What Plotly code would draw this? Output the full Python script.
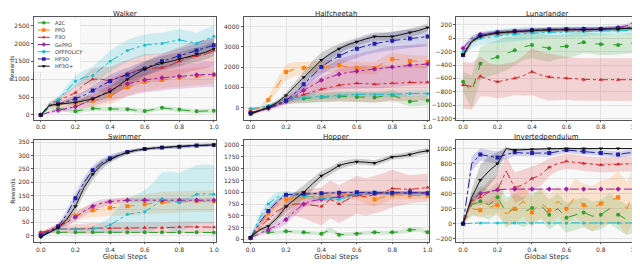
import plotly.graph_objects as go

steps = [0, .05, .1, .15, .2, .25, .3, .35, .4, .45, .5, .55, .6, .65, .7, .75, .8, .85, .9, .95, 1.0]
x_ticks = [0.0, 0.2, 0.4, 0.6, 0.8, 1.0]
methods = ["A2C", "PPO", "P3O", "GePPO", "OFFPOLICY", "HP3O", "HP3O+"]
envs = ["Walker", "Halfcheetah", "Lunarlander", "Swimmer", "Hopper", "Invertedpendulum"]

# ---------------- Walker ----------------
walker_a2c = [0, 200, 180, 150, 100, 150, 180, 170, 170, 150, 160, 130, 110, 150, 200, 170, 150, 120, 100, 110, 120]
walker_a2c_sd = [0, 60, 60, 60, 60, 60, 60, 60, 60, 60, 60, 60, 60, 60, 60, 60, 60, 60, 60, 60, 60]
walker_ppo = [0, 250, 300, 320, 340, 370, 400, 450, 520, 650, 780, 860, 920, 950, 980, 1020, 1050, 1060, 1080, 1100, 1120]
walker_ppo_sd = [0, 50, 80, 100, 120, 150, 180, 200, 220, 250, 250, 250, 250, 250, 250, 250, 250, 250, 250, 250, 250]
walker_p3o = [0, 300, 400, 500, 620, 850, 1000, 1000, 950, 1050, 1150, 1230, 1300, 1320, 1320, 1400, 1500, 1600, 1650, 1700, 1800]
walker_p3o_sd = [0, 60, 100, 150, 200, 250, 300, 350, 400, 400, 400, 400, 400, 400, 400, 400, 400, 400, 400, 400, 400]
walker_geppo = [0, 80, 130, 180, 230, 330, 450, 580, 700, 800, 870, 930, 980, 1010, 1040, 1060, 1080, 1100, 1120, 1130, 1130]
walker_geppo_sd = [0, 40, 60, 80, 100, 150, 200, 250, 300, 330, 350, 350, 350, 350, 350, 350, 350, 350, 350, 350, 350]
walker_offp = [0, 300, 430, 700, 940, 1050, 1100, 1300, 1500, 1650, 1800, 1880, 1950, 1980, 2000, 2050, 2100, 2050, 2000, 2100, 2200]
walker_offp_sd = [0, 50, 80, 120, 150, 200, 250, 280, 300, 300, 300, 300, 300, 300, 300, 300, 300, 300, 300, 300, 300]
walker_hp3o = [0, 250, 300, 370, 450, 550, 680, 820, 950, 1050, 1120, 1220, 1300, 1400, 1500, 1580, 1650, 1720, 1800, 1880, 1950]
walker_hp3o_sd = [0, 30, 50, 70, 90, 110, 130, 150, 170, 180, 190, 200, 200, 200, 200, 200, 200, 200, 200, 200, 200]
walker_hp3op = [0, 270, 300, 320, 350, 400, 450, 550, 650, 820, 1000, 1150, 1280, 1380, 1450, 1500, 1560, 1630, 1700, 1750, 1850]
walker_hp3op_sd = [0, 30, 40, 50, 60, 80, 100, 130, 160, 180, 200, 200, 200, 200, 200, 200, 200, 200, 200, 200, 200]

# ---------------- Halfcheetah ----------------
cheetah_a2c = [-300, -150, 0, 200, 350, 420, 450, 500, 520, 540, 560, 540, 520, 500, 500, 560, 620, 450, 300, 330, 350]
cheetah_a2c_sd = [50, 60, 80, 100, 150, 200, 250, 250, 250, 250, 250, 250, 250, 250, 250, 250, 250, 250, 250, 250, 250]
cheetah_ppo = [-100, -50, 380, 1100, 1750, 1900, 1950, 1980, 2000, 2050, 2100, 2000, 1950, 1950, 1950, 2200, 2400, 2350, 2300, 2270, 2250]
cheetah_ppo_sd = [50, 80, 150, 300, 400, 350, 300, 300, 300, 300, 300, 300, 300, 300, 300, 300, 300, 300, 300, 300, 300]
cheetah_p3o = [-350, -150, 50, 200, 350, 500, 650, 780, 900, 1000, 1100, 1150, 1200, 1180, 1150, 1180, 1200, 1220, 1250, 1250, 1250]
cheetah_p3o_sd = [50, 80, 100, 150, 200, 300, 400, 500, 600, 700, 800, 850, 900, 900, 900, 900, 900, 900, 900, 900, 900]
cheetah_geppo = [-250, -150, -50, 100, 300, 550, 850, 1100, 1350, 1500, 1650, 1730, 1800, 1850, 1900, 1950, 2000, 2050, 2100, 2120, 2150]
cheetah_geppo_sd = [50, 50, 80, 100, 150, 250, 350, 450, 550, 650, 750, 800, 850, 900, 950, 1000, 1000, 1000, 1000, 1000, 1000]
cheetah_offp = [-50, 0, 100, 250, 350, 450, 500, 530, 550, 580, 600, 620, 650, 660, 650, 660, 650, 680, 700, 700, 700]
cheetah_offp_sd = [50, 50, 80, 100, 120, 150, 150, 150, 150, 150, 150, 150, 150, 150, 150, 150, 150, 150, 150, 150, 150]
cheetah_hp3o = [-250, -150, 0, 150, 350, 700, 1150, 1600, 2000, 2300, 2550, 2750, 2900, 3050, 3150, 3230, 3300, 3350, 3400, 3450, 3500]
cheetah_hp3o_sd = [50, 50, 80, 100, 150, 200, 250, 300, 350, 400, 450, 450, 450, 450, 450, 450, 450, 450, 450, 450, 450]
cheetah_hp3op = [-300, -150, 0, 250, 600, 1050, 1500, 1950, 2350, 2650, 2900, 3100, 3250, 3380, 3500, 3500, 3500, 3600, 3700, 3800, 3950]
cheetah_hp3op_sd = [50, 50, 80, 100, 150, 200, 300, 350, 350, 300, 250, 200, 200, 200, 200, 200, 200, 200, 200, 200, 200]

# ---------------- Lunarlander ----------------
lunar_a2c = [-650, -800, -380, -320, -280, -230, -180, -130, -100, -130, -150, -130, -120, -90, -60, -80, -90, -100, -100, -80, -70]
lunar_a2c_sd = [150, 250, 250, 250, 250, 250, 220, 200, 200, 200, 200, 180, 180, 180, 160, 160, 160, 150, 150, 150, 150]
lunar_ppo = [-250, -50, 30, 60, 80, 90, 100, 110, 120, 120, 125, 125, 130, 130, 135, 135, 140, 140, 140, 145, 150]
lunar_ppo_sd = [50, 40, 30, 30, 30, 30, 30, 30, 30, 30, 30, 30, 30, 30, 30, 30, 30, 30, 30, 30, 30]
lunar_p3o = [-700, -720, -570, -620, -650, -630, -600, -560, -500, -550, -580, -590, -600, -610, -620, -620, -620, -620, -620, -620, -620]
lunar_p3o_sd = [350, 350, 300, 250, 250, 250, 250, 300, 350, 350, 350, 330, 320, 320, 320, 320, 320, 320, 320, 320, 320]
lunar_geppo = [-150, 0, 60, 80, 90, 100, 110, 120, 125, 130, 130, 130, 135, 135, 140, 140, 140, 150, 160, 190, 250]
lunar_geppo_sd = [40, 30, 30, 30, 30, 30, 30, 30, 30, 30, 30, 30, 30, 30, 30, 30, 30, 30, 30, 30, 30]
lunar_offp = [-200, -50, 0, 20, 40, 50, 60, 70, 80, 80, 90, 90, 100, 100, 100, 110, 110, 110, 110, 115, 120]
lunar_offp_sd = [80, 100, 100, 100, 100, 100, 100, 100, 100, 80, 80, 80, 80, 80, 80, 70, 70, 70, 60, 60, 60]
lunar_hp3o = [-250, -40, 40, 70, 85, 95, 105, 115, 120, 125, 130, 130, 135, 135, 140, 140, 140, 145, 150, 155, 160]
lunar_hp3o_sd = [50, 30, 30, 30, 30, 30, 30, 30, 30, 30, 30, 30, 30, 30, 30, 30, 30, 30, 30, 30, 30]
lunar_hp3op = [-250, -50, 30, 60, 80, 90, 100, 110, 120, 120, 125, 125, 130, 130, 120, 130, 135, 140, 140, 145, 150]
lunar_hp3op_sd = [50, 30, 30, 30, 30, 30, 30, 30, 30, 30, 30, 30, 30, 30, 30, 30, 30, 30, 30, 30, 30]

# ---------------- Swimmer ----------------
swim_a2c = [12, 13, 13, 13, 13, 13, 13, 13, 13, 13, 13, 13, 13, 13, 13, 13, 13, 13, 13, 12, 12]
swim_a2c_sd = [3, 3, 3, 3, 3, 3, 3, 3, 3, 3, 3, 3, 3, 3, 3, 3, 3, 3, 3, 3, 3]
swim_ppo = [10, 20, 35, 55, 75, 85, 95, 100, 105, 108, 110, 113, 118, 122, 125, 126, 127, 128, 130, 130, 130]
swim_ppo_sd = [3, 8, 10, 15, 20, 22, 25, 28, 30, 32, 35, 37, 38, 40, 40, 40, 40, 40, 40, 40, 40]
swim_p3o = [12, 20, 25, 25, 25, 26, 28, 28, 28, 28, 28, 29, 30, 30, 30, 31, 33, 33, 33, 32, 32]
swim_p3o_sd = [5, 10, 15, 15, 18, 20, 20, 20, 20, 20, 20, 20, 20, 20, 20, 20, 20, 20, 20, 20, 20]
swim_geppo = [5, 20, 35, 50, 70, 92, 110, 122, 128, 131, 133, 133, 133, 133, 133, 133, 133, 133, 133, 133, 133]
swim_geppo_sd = [3, 8, 10, 15, 15, 15, 15, 15, 12, 10, 8, 8, 8, 8, 8, 8, 8, 8, 8, 8, 8]
swim_offp = [-5, 15, 25, 25, 25, 25, 25, 30, 40, 60, 80, 85, 90, 110, 138, 130, 125, 140, 155, 157, 155]
swim_offp_sd = [3, 5, 5, 5, 5, 8, 10, 20, 30, 50, 60, 70, 80, 90, 100, 110, 110, 110, 110, 110, 110]
swim_hp3o = [0, 15, 35, 80, 140, 200, 245, 272, 290, 303, 313, 320, 325, 328, 330, 332, 333, 335, 338, 339, 340]
swim_hp3o_sd = [2, 5, 8, 15, 20, 20, 18, 15, 12, 10, 8, 7, 6, 6, 6, 6, 6, 6, 6, 6, 6]
swim_hp3op = [-5, 12, 30, 60, 110, 180, 230, 265, 285, 300, 312, 320, 325, 328, 330, 333, 335, 337, 338, 339, 340]
swim_hp3op_sd = [2, 5, 8, 15, 20, 25, 22, 18, 12, 10, 8, 7, 6, 6, 6, 6, 6, 6, 6, 6, 6]

# ---------------- Hopper ----------------
hop_a2c = [30, 200, 150, 150, 170, 160, 150, 140, 120, 200, 100, 110, 120, 130, 150, 140, 150, 160, 200, 210, 150]
hop_a2c_sd = [10, 40, 40, 40, 40, 40, 40, 40, 40, 60, 40, 40, 40, 40, 40, 40, 40, 40, 50, 50, 40]
hop_ppo = [30, 300, 550, 750, 850, 880, 900, 910, 920, 940, 950, 945, 940, 900, 850, 900, 950, 940, 930, 930, 930]
hop_ppo_sd = [10, 50, 80, 100, 80, 70, 60, 60, 60, 60, 60, 80, 100, 150, 150, 120, 100, 80, 80, 80, 80]
hop_p3o = [30, 250, 430, 600, 700, 750, 750, 720, 700, 850, 750, 850, 950, 900, 950, 1000, 1080, 1070, 1060, 1080, 1100]
hop_p3o_sd = [10, 80, 120, 150, 200, 250, 300, 350, 400, 400, 400, 400, 400, 400, 400, 400, 400, 350, 300, 300, 300]
hop_geppo = [30, 120, 200, 300, 420, 600, 750, 820, 850, 880, 900, 930, 950, 970, 980, 975, 970, 975, 980, 985, 990]
hop_geppo_sd = [10, 40, 60, 80, 100, 100, 80, 60, 50, 40, 40, 40, 40, 40, 40, 40, 40, 40, 40, 40, 40]
hop_offp = [50, 450, 750, 900, 950, 940, 920, 900, 880, 870, 850, 900, 960, 980, 1000, 980, 970, 975, 980, 970, 960]
hop_offp_sd = [10, 80, 100, 100, 80, 60, 60, 60, 60, 60, 60, 60, 60, 50, 50, 50, 50, 50, 50, 50, 50]
hop_hp3o = [30, 350, 600, 800, 950, 960, 970, 975, 980, 985, 990, 995, 1000, 995, 990, 990, 990, 995, 1000, 990, 980]
hop_hp3o_sd = [10, 60, 80, 60, 30, 30, 30, 30, 30, 30, 30, 30, 30, 30, 30, 30, 30, 30, 30, 30, 30]
hop_hp3op = [50, 200, 280, 450, 700, 850, 1000, 1180, 1350, 1450, 1570, 1620, 1650, 1640, 1620, 1680, 1750, 1770, 1800, 1850, 1880]
hop_hp3op_sd = [10, 30, 50, 80, 120, 150, 150, 130, 100, 80, 80, 70, 60, 60, 60, 60, 60, 60, 60, 60, 60]

# ---------------- Invertedpendulum ----------------
inv_a2c = [0, 250, 300, 250, 350, 150, 200, 150, 210, 250, 120, 200, 80, 120, 150, 100, 120, 200, 120, 50, 70]
inv_a2c_sd = [0, 150, 200, 200, 200, 200, 200, 200, 200, 200, 200, 200, 200, 200, 200, 200, 200, 200, 200, 200, 200]
inv_ppo = [0, 200, 180, 220, 250, 130, 200, 300, 150, 280, 180, 300, 200, 350, 250, 200, 270, 300, 350, 200, 450]
inv_ppo_sd = [0, 80, 100, 100, 150, 150, 200, 200, 200, 200, 200, 200, 220, 250, 280, 300, 300, 300, 350, 350, 350]
inv_p3o = [0, 300, 350, 420, 450, 700, 480, 520, 600, 650, 750, 800, 830, 820, 800, 790, 780, 785, 790, 795, 800]
inv_p3o_sd = [0, 50, 100, 150, 200, 200, 200, 200, 150, 150, 120, 100, 100, 100, 100, 100, 100, 100, 100, 100, 100]
inv_geppo = [0, 320, 400, 430, 450, 460, 460, 460, 460, 460, 460, 460, 460, 460, 460, 460, 460, 460, 460, 460, 460]
inv_geppo_sd = [0, 20, 10, 5, 5, 5, 5, 5, 5, 5, 5, 5, 5, 5, 5, 5, 5, 5, 5, 5, 5]
inv_offp = [0, 10, 10, 10, 10, 10, 10, 10, 10, 10, 10, 10, 10, 10, 10, 10, 10, 10, 10, 10, 10]
inv_offp_sd = [0, 5, 5, 5, 5, 5, 5, 5, 5, 5, 5, 5, 5, 5, 5, 5, 5, 5, 5, 5, 5]
inv_hp3o = [0, 800, 920, 900, 880, 920, 950, 940, 940, 940, 940, 960, 980, 970, 960, 950, 940, 930, 920, 940, 950]
inv_hp3o_sd = [0, 100, 80, 80, 80, 60, 50, 50, 50, 50, 50, 40, 40, 40, 40, 40, 40, 40, 40, 40, 40]
inv_hp3op = [0, 350, 580, 700, 800, 1000, 980, 990, 990, 995, 1000, 1000, 1000, 1000, 1000, 1000, 1000, 1000, 1000, 1000, 1000]
inv_hp3op_sd = [0, 100, 200, 200, 150, 20, 20, 20, 10, 10, 10, 5, 5, 5, 5, 5, 5, 5, 5, 5, 5]

env_data = [
    [(walker_a2c, walker_a2c_sd), (walker_ppo, walker_ppo_sd), (walker_p3o, walker_p3o_sd), (walker_geppo, walker_geppo_sd),
     (walker_offp, walker_offp_sd), (walker_hp3o, walker_hp3o_sd), (walker_hp3op, walker_hp3op_sd)],
    [(cheetah_a2c, cheetah_a2c_sd), (cheetah_ppo, cheetah_ppo_sd), (cheetah_p3o, cheetah_p3o_sd), (cheetah_geppo, cheetah_geppo_sd),
     (cheetah_offp, cheetah_offp_sd), (cheetah_hp3o, cheetah_hp3o_sd), (cheetah_hp3op, cheetah_hp3op_sd)],
    [(lunar_a2c, lunar_a2c_sd), (lunar_ppo, lunar_ppo_sd), (lunar_p3o, lunar_p3o_sd), (lunar_geppo, lunar_geppo_sd),
     (lunar_offp, lunar_offp_sd), (lunar_hp3o, lunar_hp3o_sd), (lunar_hp3op, lunar_hp3op_sd)],
    [(swim_a2c, swim_a2c_sd), (swim_ppo, swim_ppo_sd), (swim_p3o, swim_p3o_sd), (swim_geppo, swim_geppo_sd),
     (swim_offp, swim_offp_sd), (swim_hp3o, swim_hp3o_sd), (swim_hp3op, swim_hp3op_sd)],
    [(hop_a2c, hop_a2c_sd), (hop_ppo, hop_ppo_sd), (hop_p3o, hop_p3o_sd), (hop_geppo, hop_geppo_sd),
     (hop_offp, hop_offp_sd), (hop_hp3o, hop_hp3o_sd), (hop_hp3op, hop_hp3op_sd)],
    [(inv_a2c, inv_a2c_sd), (inv_ppo, inv_ppo_sd), (inv_p3o, inv_p3o_sd), (inv_geppo, inv_geppo_sd),
     (inv_offp, inv_offp_sd), (inv_hp3o, inv_hp3o_sd), (inv_hp3op, inv_hp3op_sd)],
]

y_ranges = [[-135, 2740], [-600, 4470], [-1220, 320], [-25, 360], [-65, 2120], [-250, 1120]]
y_ticks = [
    [0, 500, 1000, 1500, 2000, 2500],
    [0, 1000, 2000, 3000, 4000],
    [200, 0, -200, -400, -600, -800, -1000, -1200],
    [0, 50, 100, 150, 200, 250, 300, 350],
    [0, 250, 500, 750, 1000, 1250, 1500, 1750, 2000],
    [-200, 0, 200, 400, 600, 800, 1000],
]

colors = ["#2ca02c", "#ff7f0e", "#d62728", "#a01fa0", "#17becf", "#1f1fa8", "#111111"]
fills = ["rgba(44,160,44,0.18)", "rgba(255,127,14,0.18)", "rgba(214,39,40,0.18)", "rgba(160,31,160,0.18)",
         "rgba(23,190,207,0.18)", "rgba(31,31,168,0.18)", "rgba(17,17,17,0.18)"]
dashes = ["dash", "dash", "dashdot", "dashdot", "dashdot", "dashdot", "solid"]
symbols = ["circle", "square", "triangle-up", "diamond", "circle", "square", "triangle-down"]
msizes = [4, 4, 4, 4, 3, 4, 4]

W, H = 640, 275
col_px = [(25, 208), (236, 423), (450, 632)]
row_px = [(8, 112), (132, 236)]
# legend box, in pixels (left, right, top, bottom)
leg_box = (25, 72, 10, 64)

fig = go.Figure()
layout = {}
for k in range(6):
    r, c = divmod(k, 3)
    ax = "" if k == 0 else str(k + 1)
    xd = [col_px[c][0] / W, col_px[c][1] / W]
    yd = [1 - row_px[r][1] / H, 1 - row_px[r][0] / H]
    layout["xaxis" + ax] = dict(
        domain=xd, anchor="y" + ax, range=[-0.04, 1.01], tickvals=x_ticks, tickformat=".1f",
        showline=True, mirror=True, linecolor="#555555", linewidth=1, ticks="outside", ticklen=1,
        tickcolor="#555555", showgrid=True, gridcolor="#e2e2e2", gridwidth=0.6, zeroline=False,
        tickfont=dict(size=6, color="#333333"),
        title=dict(text="Global Steps" if r == 1 else "", font=dict(size=7, color="#333333"), standoff=1),
    )
    layout["yaxis" + ax] = dict(
        domain=yd, anchor="x" + ax, range=y_ranges[k], tickvals=y_ticks[k],
        showline=True, mirror=True, linecolor="#555555", linewidth=1, ticks="outside", ticklen=2,
        tickcolor="#555555", showgrid=True, gridcolor="#e2e2e2", gridwidth=0.6, zeroline=False,
        tickfont=dict(size=6, color="#333333"),
        title=dict(text="Rewards" if c == 0 else "", font=dict(size=6, color="#333333"), standoff=2),
    )
    xa, ya = "x" + ax, "y" + ax
    for i, (mean, sd) in enumerate(env_data[k]):
        upper = [m + s for m, s in zip(mean, sd)]
        lower = [m - s for m, s in zip(mean, sd)]
        fig.add_trace(go.Scatter(x=steps + steps[::-1], y=upper + lower[::-1], fill="toself",
                                 fillcolor=fills[i], line=dict(width=0), mode="lines",
                                 hoverinfo="skip", showlegend=False, xaxis=xa, yaxis=ya))
    for i, (mean, sd) in enumerate(env_data[k]):
        fig.add_trace(go.Scatter(x=steps, y=mean, mode="lines", name=methods[i],
                                 line=dict(color=colors[i], width=1, dash=dashes[i]),
                                 showlegend=False, xaxis=xa, yaxis=ya))
        fig.add_trace(go.Scatter(x=steps[::2], y=mean[::2], mode="markers", name=methods[i],
                                 showlegend=False,
                                 marker=dict(color=colors[i], size=msizes[i], symbol=symbols[i]),
                                 xaxis=xa, yaxis=ya))

# ---- compact legend drawn in its own overlay axis (pixel coordinates) ----
L, R, T, B = leg_box
layout["xaxis7"] = dict(domain=[L / W, R / W], anchor="y7", range=[L, R], visible=False, fixedrange=True)
layout["yaxis7"] = dict(domain=[1 - B / H, 1 - T / H], anchor="x7", range=[B, T], visible=False, fixedrange=True)
fig.add_trace(go.Scatter(x=[L, R, R, L, L], y=[T, T, B, B, T], fill="toself", fillcolor="rgba(255,255,255,0.92)",
                         line=dict(color="#dddddd", width=0.6), mode="lines", hoverinfo="skip",
                         showlegend=False, xaxis="x7", yaxis="y7"))
entry_y = [14.0, 21.3, 28.6, 35.9, 43.2, 50.5, 57.8]
annotations = []
for i, name in enumerate(methods):
    yy = entry_y[i]
    fig.add_trace(go.Scatter(x=[29, 41], y=[yy, yy], mode="lines", line=dict(color=colors[i], width=1, dash="solid"),
                             hoverinfo="skip", showlegend=False, xaxis="x7", yaxis="y7"))
    fig.add_trace(go.Scatter(x=[35], y=[yy], mode="markers", marker=dict(color=colors[i], size=3.5, symbol=symbols[i]),
                             hoverinfo="skip", showlegend=False, xaxis="x7", yaxis="y7"))
    annotations.append(dict(text=name, x=44, y=yy, xref="x7", yref="y7", xanchor="left", yanchor="middle",
                            showarrow=False, font=dict(size=5, color="#333333")))

for k in range(6):
    r, c = divmod(k, 3)
    annotations.append(dict(text=envs[k], x=(col_px[c][0] + col_px[c][1]) / 2 / W, y=1 - row_px[r][0] / H,
                            xref="paper", yref="paper", xanchor="center", yanchor="bottom", showarrow=False,
                            font=dict(size=7, color="#222222"), yshift=-2, borderpad=0))

fig.update_layout(
    width=W, height=H, margin=dict(l=0, r=0, t=0, b=0),
    paper_bgcolor="white", plot_bgcolor="#f8f8f8",
    font=dict(family="DejaVu Sans", size=6, color="#333333"),
    showlegend=False,
    annotations=annotations,
    **layout,
)
fig.write_html("out.html")
